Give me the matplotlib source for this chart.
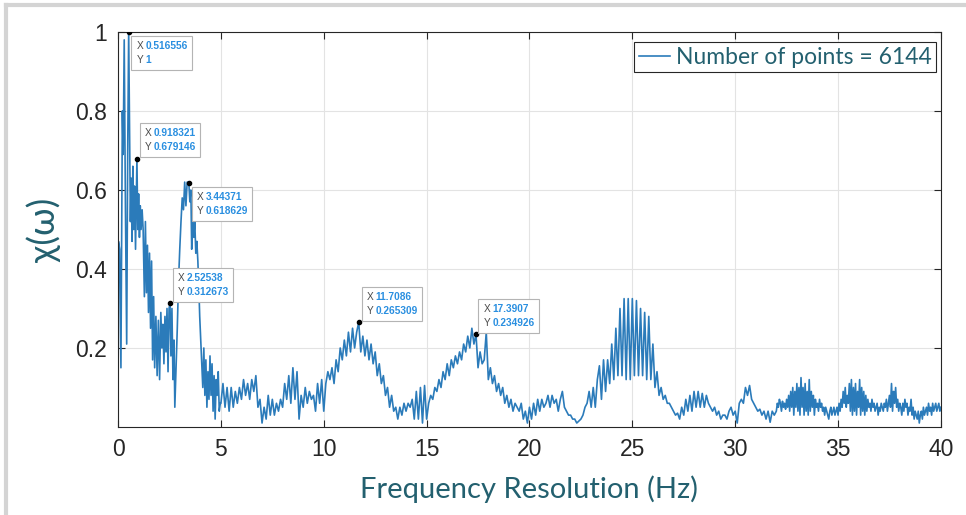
import matplotlib
matplotlib.use('Agg')

import matplotlib.pyplot as plt
import numpy as np
from matplotlib.lines import Line2D
from matplotlib.patches import Rectangle
from matplotlib.transforms import IdentityTransform

# spectrum, 0-5 Hz (irregular spikes)
f_low = [0.00, 0.02, 0.08, 0.14, 0.21, 0.25, 0.30, 0.36, 0.42, 0.47, 0.517, 0.56, 0.60, 0.64,
         0.68, 0.72, 0.76, 0.80, 0.85, 0.918, 0.96, 1.00, 1.04, 1.08, 1.12, 1.17, 1.22, 1.28,
         1.33, 1.38, 1.43, 1.48, 1.53, 1.58, 1.63, 1.68, 1.73, 1.78, 1.84, 1.90, 1.96, 2.02,
         2.08, 2.13, 2.18, 2.23, 2.28, 2.33, 2.38, 2.43, 2.48, 2.525, 2.57, 2.62, 2.67, 2.72,
         2.76, 2.82, 2.88, 2.94, 3.00, 3.06, 3.12, 3.18, 3.24, 3.30, 3.36, 3.44, 3.49, 3.54,
         3.58, 3.63, 3.68, 3.73, 3.78, 3.83, 3.88, 3.93, 3.97, 4.02, 4.07, 4.12, 4.17, 4.22,
         4.27, 4.32, 4.37, 4.42, 4.47, 4.52, 4.57, 4.62, 4.67, 4.72, 4.77, 4.82, 4.87, 4.92, 4.97]
chi_low = [0.00, 0.47, 0.45, 0.15, 0.80, 0.69, 0.98, 0.55, 0.21, 0.70, 1.00, 0.74, 0.52, 0.63,
           0.47, 0.66, 0.50, 0.61, 0.45, 0.679, 0.50, 0.59, 0.48, 0.56, 0.50, 0.55, 0.50, 0.33,
           0.52, 0.34, 0.46, 0.29, 0.44, 0.25, 0.42, 0.17, 0.33, 0.15, 0.28, 0.13, 0.27, 0.12,
           0.29, 0.20, 0.26, 0.16, 0.28, 0.19, 0.30, 0.14, 0.30, 0.313, 0.18, 0.30, 0.12, 0.22,
           0.05, 0.15, 0.25, 0.37, 0.45, 0.52, 0.58, 0.55, 0.62, 0.56, 0.62, 0.619, 0.57, 0.60,
           0.45, 0.53, 0.48, 0.52, 0.44, 0.47, 0.42, 0.35, 0.28, 0.22, 0.16, 0.10, 0.20, 0.08,
           0.17, 0.05, 0.14, 0.07, 0.18, 0.08, 0.16, 0.04, 0.13, 0.02, 0.12, 0.08, 0.14, 0.04, 0.06]

# 5.0 - 20.9 Hz, 0.1 Hz bins
chi_mid = [0.06, 0.11, 0.05, 0.10, 0.04, 0.10, 0.05, 0.09, 0.06, 0.10,
           0.07, 0.12, 0.08, 0.11, 0.07, 0.12, 0.09, 0.13, 0.05, 0.07,
           0.01, 0.05, 0.02, 0.08, 0.03, 0.07, 0.03, 0.06, 0.04, 0.07,
           0.05, 0.11, 0.07, 0.13, 0.06, 0.15, 0.07, 0.14, 0.02, 0.08,
           0.05, 0.10, 0.06, 0.09, 0.07, 0.08, 0.04, 0.11, 0.06, 0.12,
           0.04, 0.11, 0.14, 0.12, 0.15, 0.11, 0.17, 0.14, 0.20, 0.17,
           0.22, 0.18, 0.24, 0.19, 0.25, 0.20, 0.24, 0.265, 0.19, 0.23,
           0.18, 0.22, 0.17, 0.21, 0.16, 0.19, 0.13, 0.16, 0.11, 0.13,
           0.08, 0.10, 0.05, 0.08, 0.04, 0.05, 0.02, 0.05, 0.03, 0.06,
           0.04, 0.06, 0.05, 0.07, 0.02, 0.09, 0.02, 0.10, 0.01, 0.105,
           0.02, 0.06, 0.08, 0.07, 0.10, 0.09, 0.12, 0.10, 0.14, 0.12,
           0.16, 0.13, 0.17, 0.15, 0.18, 0.16, 0.19, 0.17, 0.21, 0.19,
           0.23, 0.20, 0.25, 0.21, 0.235, 0.15, 0.19, 0.16, 0.17, 0.24,
           0.12, 0.15, 0.11, 0.13, 0.09, 0.11, 0.08, 0.10, 0.06, 0.08,
           0.05, 0.07, 0.04, 0.06, 0.05, 0.04, 0.06, 0.02, 0.04, 0.01,
           0.05, 0.02, 0.06, 0.03, 0.07, 0.04, 0.07, 0.05, 0.06, 0.08]

# 21.0 - 31.9 Hz, 0.1 Hz bins
chi_high = [0.05, 0.08, 0.06, 0.07, 0.04, 0.07, 0.09, 0.05, 0.04, 0.03,
            0.03, 0.02, 0.02, 0.01, 0.015, 0.02, 0.03, 0.05, 0.06, 0.09,
            0.05, 0.10, 0.05, 0.12, 0.155, 0.07, 0.17, 0.09, 0.17, 0.11,
            0.21, 0.12, 0.25, 0.13, 0.30, 0.13, 0.325, 0.12, 0.325, 0.12,
            0.325, 0.13, 0.32, 0.13, 0.30, 0.13, 0.29, 0.12, 0.28, 0.12,
            0.21, 0.10, 0.14, 0.08, 0.10, 0.07, 0.08, 0.06, 0.06, 0.05,
            0.04, 0.03, 0.035, 0.02, 0.05, 0.03, 0.07, 0.04, 0.08, 0.04,
            0.09, 0.05, 0.09, 0.05, 0.085, 0.05, 0.08, 0.06, 0.05, 0.04,
            0.05, 0.03, 0.04, 0.02, 0.03, 0.03, 0.02, 0.04, 0.05, 0.03,
            0.04, 0.01, 0.06, 0.07, 0.06, 0.10, 0.08, 0.105, 0.07, 0.06,
            0.05, 0.04, 0.045, 0.03, 0.04, 0.02, 0.04, 0.012, 0.04, 0.03]

# 32.0 - 40.0 Hz, 0.05 Hz bins
chi_tail = [0.04, 0.06, 0.05, 0.07, 0.06, 0.04, 0.065, 0.05, 0.06, 0.045, 0.07,
            0.05, 0.08, 0.04, 0.09, 0.05, 0.10, 0.03, 0.09, 0.05, 0.11,
            0.04, 0.10, 0.03, 0.125, 0.05, 0.10, 0.03, 0.11, 0.04, 0.09,
            0.03, 0.12, 0.04, 0.09, 0.05, 0.08, 0.03, 0.07, 0.05, 0.06,
            0.04, 0.07, 0.05, 0.06, 0.04, 0.05, 0.03, 0.05, 0.04, 0.03,
            0.02, 0.04, 0.05, 0.03, 0.04, 0.05, 0.03, 0.04, 0.05, 0.03,
            0.06, 0.04, 0.07, 0.05, 0.09, 0.06, 0.10, 0.05, 0.08, 0.06,
            0.11, 0.04, 0.12, 0.03, 0.10, 0.04, 0.11, 0.03, 0.09, 0.05,
            0.12, 0.03, 0.10, 0.04, 0.09, 0.03, 0.08, 0.04, 0.07, 0.05,
            0.06, 0.04, 0.07, 0.05, 0.06, 0.04, 0.05, 0.06, 0.03, 0.05,
            0.04, 0.06, 0.05, 0.04, 0.06, 0.05, 0.07, 0.04, 0.06, 0.08,
            0.05, 0.11, 0.04, 0.09, 0.06, 0.10, 0.05, 0.07, 0.04, 0.06,
            0.05, 0.03, 0.06, 0.04, 0.07, 0.05, 0.06, 0.03, 0.05, 0.04,
            0.07, 0.03, 0.05, 0.02, 0.04, 0.03, 0.02, 0.04, 0.01, 0.03,
            0.04, 0.02, 0.05, 0.03, 0.04, 0.05, 0.03, 0.06, 0.04, 0.05,
            0.03, 0.06, 0.04, 0.05, 0.06, 0.04, 0.05, 0.06, 0.04, 0.05]

# data tips
tip_x = [0.516556, 0.918321, 3.44371, 2.52538, 11.7086, 17.3907]
tip_y = [1, 0.679146, 0.618629, 0.312673, 0.265309, 0.234926]
tip_below = [True, False, True, False, False, False]

freq = np.concatenate([f_low,
                       5.0 + 0.1 * np.arange(len(chi_mid)),
                       21.0 + 0.1 * np.arange(len(chi_high)),
                       32.0 + 0.05 * np.arange(len(chi_tail))])
chi = np.concatenate([chi_low, chi_mid, chi_high, chi_tail])

teal = '#23606f'
blue = '#2b7bba'
label_font = ['Lato', 'DejaVu Sans']

fig = plt.figure(figsize=(9.66, 5.15), dpi=100)
ax = fig.add_axes([0.1222, 0.1709, 0.8518, 0.767])

ax.plot(freq, chi, color=blue, lw=1.2, label='Number of points = 6144')
ax.plot(tip_x, tip_y, 'o', ms=3, color='k', zorder=5)

tips = []
for x, y, below in zip(tip_x, tip_y, tip_below):
    va = 'top' if below else 'bottom'
    dy = -6.5 if below else 4.5
    t1 = ax.annotate('X\nY', (x, y), xytext=(5.5, dy), textcoords='offset points',
                     ha='left', va=va, fontsize=7.3, color='#4a4a4a', linespacing=1.55,
                     family='Liberation Sans', zorder=8)
    t2 = ax.annotate(f'{x:g}\n{y:g}', (x, y), xytext=(12, dy), textcoords='offset points',
                     ha='left', va=va, fontsize=7.3, color='#2a8fe0', fontweight='bold',
                     family='Liberation Sans', linespacing=1.55, zorder=8)
    tips.append((t1, t2))

ax.set_xlim(0, 40)
ax.set_ylim(0, 1)
ax.set_xticks(np.arange(0, 41, 5))
ax.set_yticks([0.2, 0.4, 0.6, 0.8, 1])
ax.set_yticklabels(['0.2', '0.4', '0.6', '0.8', '1'])
ax.grid(True, color='#e3e3e3', lw=0.8)
ax.tick_params(direction='in', top=True, right=True, length=5, width=0.8,
               labelsize=16.5, colors='#262626', pad=8)
for lab in ax.get_xticklabels() + ax.get_yticklabels():
    lab.set_family('Liberation Sans')
for s in ax.spines.values():
    s.set_color('#262626')
    s.set_linewidth(0.8)

ax.set_xlabel('Frequency Resolution (Hz)', fontsize=21, color=teal,
              family=label_font, labelpad=10)
ax.set_ylabel('χ(ω)', fontsize=26, color=teal, family=label_font, labelpad=10)

leg = ax.legend(loc='upper right', bbox_to_anchor=(0.9939, 0.9747), borderaxespad=0,
                handlelength=1.35, handletextpad=0.25, fancybox=False, framealpha=1,
                edgecolor='#262626', borderpad=0.2,
                prop={'family': label_font, 'size': 16.5})
for t in leg.get_texts():
    t.set_color(teal)
leg.get_frame().set_linewidth(0.8)

# boxes behind the data tips, sized from the drawn text
fig.canvas.draw()
rend = fig.canvas.get_renderer()
for t1, t2 in tips:
    b1 = t1.get_window_extent(rend)
    b2 = t2.get_window_extent(rend)
    x0 = min(b1.x0, b2.x0) - 5
    x1 = max(b1.x1, b2.x1) + 4
    y0 = min(b1.y0, b2.y0) - 5
    y1 = max(b1.y1, b2.y1) + 5
    ax.add_patch(Rectangle((x0, y0), x1 - x0, y1 - y0, transform=IdentityTransform(),
                           fc='white', ec='#b4b4b4', lw=0.8, zorder=7, clip_on=False))

# screenshot frame at the left and top
fig.add_artist(Line2D([0.006, 0.006], [0, 0.99], transform=fig.transFigure,
                      color='#d4d4d4', lw=3))
fig.add_artist(Line2D([0.006, 1], [0.99, 0.99], transform=fig.transFigure,
                      color='#d4d4d4', lw=3))

fig.savefig('out.png', dpi=100)
